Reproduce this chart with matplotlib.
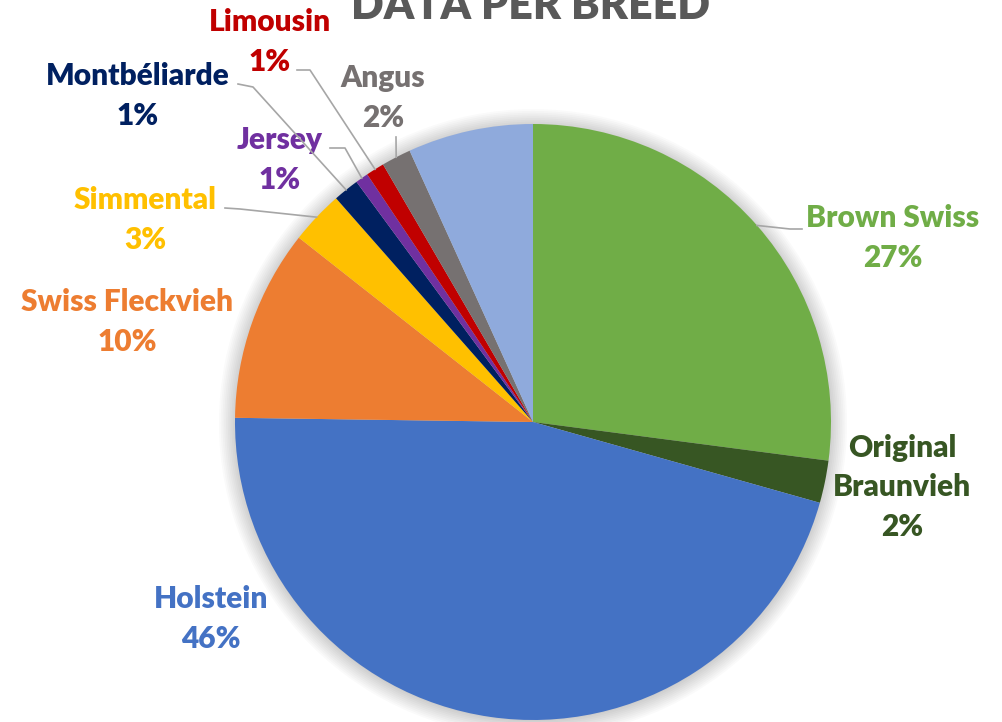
import numpy as np
import matplotlib.pyplot as plt
from matplotlib.patches import Circle

# 数据
breeds = ["Brown Swiss", "Original\nBraunvieh", "Holstein", "Swiss Fleckvieh", "Simmental",
          "Montbéliarde", "Jersey", "Limousin", "Angus", ""]
shares = [27.1, 2.3, 45.9, 10.4, 2.9, 1.4, 0.7, 1.0, 1.6, 6.8]
colors = ["#70AD47", "#375623", "#4472C4", "#ED7D31", "#FFC000",
          "#002060", "#7030A0", "#C00000", "#767171", "#8FAADC"]

W, H = 1003, 722
CX, CY, R = 533, 422, 298

def px(x, y):
    # 像素 -> 数据坐标
    return (x - CX) / R, (CY - y) / R

fig = plt.figure(figsize=(W / 100, H / 100), dpi=100)
ax = fig.add_axes([0, 0, 1, 1])

# 阴影
for i in range(10):
    ax.add_patch(Circle((0.0, -0.004), 1 + 0.006 * i, color="#000000", alpha=0.018, lw=0, zorder=0))

wedges, _ = ax.pie(shares, colors=colors, startangle=90, counterclock=False,
                   radius=1, center=(0, 0), frame=True,
                   wedgeprops=dict(linewidth=0))
ax.set_xlim(-CX / R, (W - CX) / R)
ax.set_ylim(-(H - CY) / R, CY / R)
ax.set_aspect("equal")
ax.axis("off")

# 标签位置 (像素) 和引线
label_pos = [(893, 238), (902, 487), (211, 619), (127, 322), (145, 220),
             (138, 96), (280, 160), (270, 42), (383, 98), None]
leaders = [[(802, 229), (790, 229)], None, None, None, [(225, 208), (240, 209)],
           [(238, 84), (253, 87)], [(330, 148), (345, 148)], [(297, 70), (310, 70)],
           [(396, 137)], None]
text_colors = colors[:8] + ["#767171", None]

font = ["Lato", "DejaVu Sans"]
for i, w in enumerate(wedges):
    if label_pos[i] is None:
        continue
    lx, ly = px(*label_pos[i])
    ax.text(lx, ly, "%s\n%d%%" % (breeds[i], round(shares[i])), ha="center", va="center",
            fontsize=21.5, fontweight="heavy", color=text_colors[i], family=font,
            linespacing=1.5)
    if leaders[i]:
        mid = np.deg2rad((w.theta1 + w.theta2) / 2)
        pts = [px(*p) for p in leaders[i]] + [(np.cos(mid), np.sin(mid))]
        xs, ys = zip(*pts)
        ax.plot(xs, ys, color="#A6A6A6", lw=1.2, zorder=5)

tx, ty = px(531, 19)
ax.text(tx, ty, "DATA PER BREED", ha="center", va="baseline", fontsize=31,
        fontweight="heavy", color="#595959", family=font)

fig.savefig("out.png", dpi=100)
